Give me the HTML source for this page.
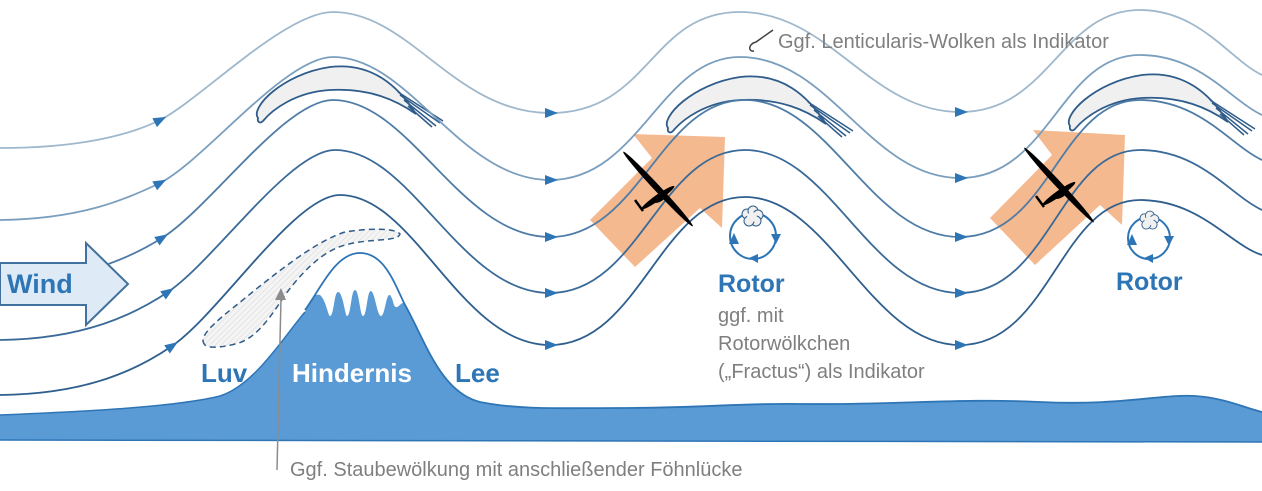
<!DOCTYPE html>
<html><head><meta charset="utf-8"><style>
html,body{margin:0;padding:0;background:#fff;}
svg{display:block;}
text{font-family:"Liberation Sans",sans-serif;}
</style></head><body>
<svg width="1262" height="491" viewBox="0 0 1262 491" xmlns="http://www.w3.org/2000/svg">
<defs>
<pattern id="hatch" width="4" height="4" patternUnits="userSpaceOnUse" patternTransform="rotate(45)">
<rect width="4" height="4" fill="#f4f4f4"/><line x1="0" y1="0" x2="0" y2="4" stroke="#d8d8d8" stroke-width="1"/>
</pattern>
<g id="cloud">
<path d="M258,118 C250,108 282,74 330,67 C372,62 398,86 416,114 C396,100 370,88 330,90 C295,92 272,110 263,121 C260,124 257,122 258,118 Z" fill="#f0f0f0" stroke="#2f5c8a" stroke-width="1.8"/>
<path d="M400,95 L440,123 M404,100 L436,126 M408,106 L432,127 M398,92 L443,121" stroke="#2f5c8a" stroke-width="1.5" fill="none"/>
</g>
<g id="glider" fill="#000">
<ellipse cx="0" cy="0" rx="51" ry="3.2" transform="rotate(47)"/>
<ellipse cx="-5" cy="7" rx="20" ry="3" transform="rotate(-35)"/>
<ellipse cx="-3" cy="8" rx="8" ry="4" transform="rotate(-35)"/>
<path d="M-23,11 L-15,22" stroke="#000" stroke-width="2.5"/>
</g>
<g id="puff" fill="#f0f0f0" stroke="#2f5c8a" stroke-width="1">
<circle cx="-5" cy="-3" r="5"/><circle cx="1" cy="-6" r="5"/><circle cx="6" cy="-2" r="5"/><circle cx="4" cy="4" r="5"/><circle cx="-3" cy="4" r="5"/>
<circle cx="0" cy="0" r="5" stroke="none"/>
</g>
</defs>
<!-- ground & mountain -->
<path d="M0,415 C100,411 180,406 220,396 C255,385 285,335 305,312 C310,300 314,293 320,295 C326,300 328,316 330,316 C334,316 334,292 338,292 C343,292 345,316 347,316 C351,316 351,290 355,290 C359,290 360,316 363,316 C367,316 367,290 371,291 C375,292 377,316 381,316 C385,316 386,293 390,295 C394,300 393,308 397,307 C400,306 401,302 405,303 C425,340 440,392 480,402 C520,410 560,408 620,408 C700,408 740,403 800,404 C900,405 960,398 1040,402 C1120,406 1160,394 1195,396 C1225,398 1245,408 1262,412 L1262,442 L0,440 Z" fill="#5b9bd5"/>
<path d="M0,415 C100,411 180,406 220,396 C255,385 285,335 305,312" fill="none" stroke="#2e75b6" stroke-width="1.5"/>
<path d="M305,310 C320,290 335,253 360,253 C385,253 395,285 405,305 C425,340 440,392 480,402 C520,410 560,408 620,408 C700,408 740,403 800,404 C900,405 960,398 1040,402 C1120,406 1160,394 1195,396 C1225,398 1245,408 1262,412" fill="none" stroke="#2e75b6" stroke-width="1.8"/>
<path d="M0,440 L1262,442" stroke="#2e75b6" stroke-width="1.5"/>
<!-- dust -->
<path d="M205,345 C195,335 225,315 255,290 C290,262 320,240 345,232 C370,228 395,228 400,234 C398,242 370,238 345,245 C320,252 300,275 285,295 C270,318 255,340 235,344 C220,348 208,348 205,345 Z" fill="url(#hatch)" stroke="#2f5c8a" stroke-width="1.5" stroke-dasharray="6,4"/>
<!-- lenticular clouds -->
<use href="#cloud"/>
<use href="#cloud" transform="translate(410,10)"/>
<use href="#cloud" transform="translate(812,8)"/>
<!-- orange arrows -->
<g fill="#f4b183" opacity="0.9">
<polygon points="633,134 725,137 722,228 700,208 635,267 590,220 652,158"/>
<polygon points="1033,130 1125,135 1122,225 1100,205 1035,265 990,218 1052,155"/>
</g>
<!-- streamlines -->
<g fill="none" stroke-width="1.8">
<path stroke="#9fb8cc" d="M0,148 C80,148 130,135 160,120 C200,100 285,12 333,12 C410,12 455,113 550,113 C650,113 650,12 740,12 C830,12 870,112 960,112 C1050,112 1060,10 1140,10 C1200,10 1230,60 1262,75"/>
<path stroke="#7a9ebd" d="M0,220 C80,219 125,200 160,183 C205,160 285,57 333,57 C410,57 460,180 550,180 C640,180 660,57 740,57 C830,57 870,178 960,178 C1050,178 1060,55 1140,55 C1200,55 1230,100 1262,115"/>
<path stroke="#4f7ca6" d="M0,282 C80,281 130,258 162,238 C210,208 285,100 333,100 C410,100 460,237 550,237 C640,237 660,100 745,100 C830,100 870,237 960,237 C1050,237 1060,100 1140,100 C1200,100 1230,145 1262,160"/>
<path stroke="#3a6a98" d="M0,340 C85,339 135,314 168,292 C215,260 290,150 335,150 C412,150 460,293 550,293 C640,293 660,150 745,150 C830,150 870,293 960,293 C1050,293 1060,150 1140,150 C1200,150 1230,195 1262,210"/>
<path stroke="#2f5f8e" d="M0,395 C90,394 140,368 172,346 C220,313 295,195 340,195 C415,195 460,345 550,345 C640,345 660,197 745,197 C830,197 870,345 960,345 C1050,345 1060,200 1140,200 C1200,200 1230,245 1262,255"/>
</g>
<!-- arrowheads -->
<g fill="#2e75b6">
<polygon points="-6,-5 7,0 -6,5" transform="translate(160,120) rotate(-27)"/>
<polygon points="-6,-5 7,0 -6,5" transform="translate(160,183) rotate(-28)"/>
<polygon points="-6,-5 7,0 -6,5" transform="translate(162,238) rotate(-32)"/>
<polygon points="-6,-5 7,0 -6,5" transform="translate(168,292) rotate(-34)"/>
<polygon points="-6,-5 7,0 -6,5" transform="translate(172,346) rotate(-34)"/>
<polygon points="-6,-5 7,0 -6,5" transform="translate(551,113)"/>
<polygon points="-6,-5 7,0 -6,5" transform="translate(551,180)"/>
<polygon points="-6,-5 7,0 -6,5" transform="translate(551,237)"/>
<polygon points="-6,-5 7,0 -6,5" transform="translate(551,293)"/>
<polygon points="-6,-5 7,0 -6,5" transform="translate(551,345)"/>
<polygon points="-6,-5 7,0 -6,5" transform="translate(961,112)"/>
<polygon points="-6,-5 7,0 -6,5" transform="translate(961,178)"/>
<polygon points="-6,-5 7,0 -6,5" transform="translate(961,237)"/>
<polygon points="-6,-5 7,0 -6,5" transform="translate(961,293)"/>
<polygon points="-6,-5 7,0 -6,5" transform="translate(961,345)"/>
</g>
<!-- gliders -->
<use href="#glider" transform="translate(658,189)"/>
<use href="#glider" transform="translate(1059,185)"/>
<!-- rotors -->
<g fill="none" stroke="#2e75b6" stroke-width="2">
<circle cx="753" cy="236" r="23"/>
<circle cx="1149" cy="238" r="21"/>
</g>
<use href="#puff" transform="translate(752,217)"/>
<use href="#puff" transform="translate(1149,221) scale(0.9)"/>
<g fill="#2e75b6">
<polygon points="729,244 734,233 739,244"/><polygon points="771,234 781,234 776,244"/><polygon points="758,254 758,263 749,258"/>
<polygon points="1127,245 1132,234 1137,245"/><polygon points="1164,236 1174,236 1169,246"/><polygon points="1153,254 1153,263 1144,258"/>
</g>
<!-- wind arrow -->
<polygon points="0,263 86,263 86,243 128,284 86,325 86,305 0,305" fill="#deebf7" stroke="#41719c" stroke-width="2"/>
<text x="7" y="293" font-size="27" font-weight="bold" fill="#2e75b6">Wind</text>
<!-- labels -->
<text x="201" y="382" font-size="26" font-weight="bold" fill="#2e75b6">Luv</text>
<text x="292" y="382" font-size="26" font-weight="bold" fill="#fff">Hindernis</text>
<text x="455" y="382" font-size="26" font-weight="bold" fill="#2e75b6">Lee</text>
<text x="718" y="292" font-size="25" font-weight="bold" fill="#2e75b6">Rotor</text>
<text x="1116" y="290" font-size="25" font-weight="bold" fill="#2e75b6">Rotor</text>
<g font-size="20" fill="#7f7f7f">
<text x="718" y="322">ggf. mit</text>
<text x="718" y="350">Rotorwölkchen</text>
<text x="718" y="378">(„Fractus“) als Indikator</text>
<text x="778" y="48">Ggf. Lenticularis-Wolken als Indikator</text>
<text x="290" y="476">Ggf. Staubewölkung mit anschließender Föhnlücke</text>
</g>
<path d="M277,470 L281,298" stroke="#8c8c8c" stroke-width="1.5"/>
<polygon points="275,300 281,288 286,300" fill="#8c8c8c"/>
<path d="M773,30 L756,42 C748,44 748,52 754,51" fill="none" stroke="#404040" stroke-width="1.5"/>
</svg>
</body></html>
